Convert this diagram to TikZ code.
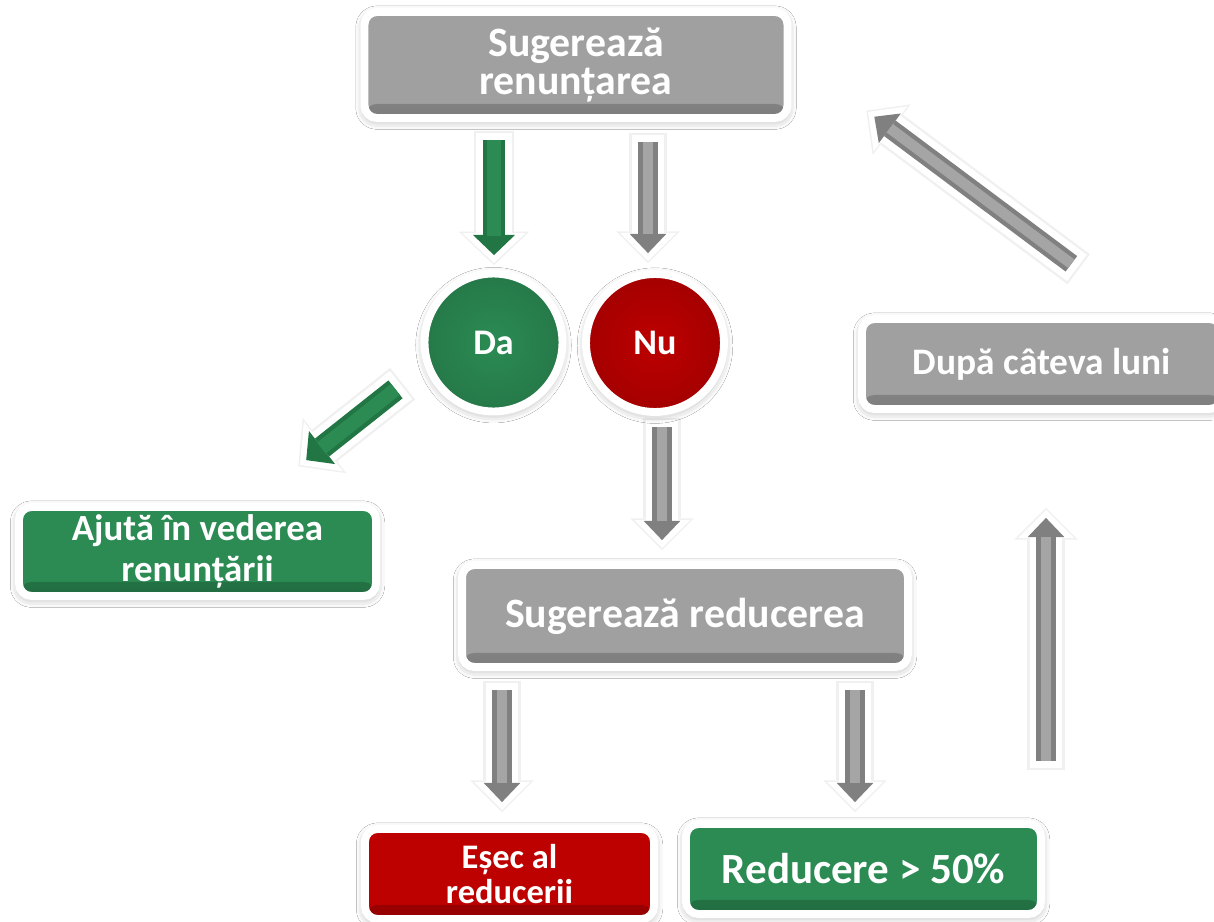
\documentclass[tikz,border=0pt]{standalone}
\usepackage{fontspec}
\setmainfont{Carlito}
\usetikzlibrary{arrows.meta,shadows.blur}
\definecolor{cgray}{RGB}{160,160,160}
\definecolor{cgreen}{RGB}{43,139,83}
\definecolor{cred}{RGB}{189,0,0}
\definecolor{agray}{RGB}{128,128,128}
\definecolor{agrayl}{RGB}{165,165,165}
\definecolor{agreen}{RGB}{33,118,68}
\tikzset{
  box/.style={fill=#1, draw=white, line width=4.5pt, rounded corners=7pt,
    text=white, font=\bfseries, align=center, inner sep=0pt,
    blur shadow={shadow xshift=0pt, shadow yshift=-1.5pt, shadow blur radius=5pt, shadow opacity=35},
    path picture={\shade[top color=#1, bottom color=#1!78!black]
      ([yshift=8pt]path picture bounding box.south west) rectangle (path picture bounding box.south east);}},
  circ/.style={circle, fill=#1, draw=white, line width=4.5pt,
    text=white, font=\bfseries\fontsize{20.5}{22}\selectfont, inner sep=0pt, minimum size=2.76cm,
    blur shadow={shadow xshift=0pt, shadow yshift=-1.5pt, shadow blur radius=5pt, shadow opacity=35},
    path picture={\shade[inner color=#1, outer color=#1!80!black]
      (path picture bounding box.center) circle (2.1cm);}},
  garrow/.style={
    preaction={draw=black!6, line width=23pt, shorten >=-1.2pt, shorten <=-1.2pt,
      -{Triangle[length=19pt,width=40pt,line width=0pt]}},
    preaction={draw=white, line width=20.4pt, shorten >=0pt, shorten <=0pt,
      -{Triangle[length=17pt,width=36pt,line width=0pt]}},
    draw=agreen, line width=13pt, shorten >=4.5pt, shorten <=4pt,
    -{Triangle[length=11.5pt,width=24pt,line width=0pt]},
    postaction={draw=cgreen, line width=8pt, shorten >=15.5pt, shorten <=4pt, -}},
  sarrow/.style={
    preaction={draw=black!6, line width=21.3pt, shorten >=-1.2pt, shorten <=-1.2pt,
      -{Triangle[length=18pt,width=36pt,line width=0pt]}},
    preaction={draw=white, line width=18.7pt, shorten >=0pt, shorten <=0pt,
      -{Triangle[length=16pt,width=32pt,line width=0pt]}},
    draw=agray, line width=11pt, shorten >=4.5pt, shorten <=4pt,
    -{Triangle[length=11pt,width=21pt,line width=0pt]},
    postaction={draw=agrayl, line width=6pt, shorten >=15.5pt, shorten <=4pt, -}},
}
\begin{document}
\begin{tikzpicture}[x=0.02cm,y=-0.02cm]
\useasboundingbox (0,0) rectangle (1214,922);
\fill[white] (0,0) rectangle (1214,922);

% arrows
\coordinate (a1s) at (494,133);  \coordinate (a1e) at (494,263);
\coordinate (a2s) at (648,135);  \coordinate (a2e) at (648,261);
\coordinate (a3s) at (401,385);  \coordinate (a3e) at (300,465);
\coordinate (a4s) at (662,420);  \coordinate (a4e) at (662,548);
\coordinate (a5s) at (502,683);  \coordinate (a5e) at (502,810);
\coordinate (a6s) at (855,683);  \coordinate (a6e) at (855,810);
\coordinate (a7s) at (1046,768); \coordinate (a7e) at (1046,510);
\coordinate (a8s) at (1077,268); \coordinate (a8e) at (868,112);

\draw[garrow] (a1s) -- (a1e);
\draw[sarrow] (a2s) -- (a2e);
\draw[garrow] (a3s) -- (a3e);
\draw[sarrow] (a4s) -- (a4e);
\draw[sarrow] (a5s) -- (a5e);
\draw[sarrow] (a6s) -- (a6e);
\draw[sarrow] (a7s) -- (a7e);
\draw[sarrow] (a8s) -- (a8e);

% nodes
\node[box=cgray, minimum width=8.46cm, minimum height=2.12cm,
  font=\bfseries\fontsize{23.8}{21.5}\selectfont] (top) at (576,65) {Sugerează\\renunțarea};
\node[circ=cgreen] (da) at (493.5,342.5) {Da};
\node[circ=cred] (nu) at (655,343) {Nu};
\node[box=cgreen, minimum width=7.14cm, minimum height=1.78cm,
  font=\bfseries\fontsize{21}{23.2}\selectfont] (ajuta) at (197.5,551.5) {Ajută în vederea\\renunțării};
\node[box=cgray, minimum width=8.92cm, minimum height=2.04cm,
  font=\bfseries\fontsize{23.8}{24}\selectfont] (sred) at (685,616) {Sugerează reducerea};
\node[box=cred, minimum width=5.78cm, minimum height=1.80cm,
  font=\bfseries\fontsize{19.6}{20.4}\selectfont] (esec) at (509.5,874) {Eșec al\\reducerii};
\node[box=cgreen, minimum width=7.10cm, minimum height=1.80cm,
  font=\bfseries\fontsize{24.5}{24}\selectfont] (red) at (863.5,869) {Reducere > 50\%};
\node[box=cgray, minimum width=7.20cm, minimum height=1.80cm,
  font=\bfseries\fontsize{21.3}{22}\selectfont] (dupa) at (1042,364) {După câteva luni};
\end{tikzpicture}
\end{document}
